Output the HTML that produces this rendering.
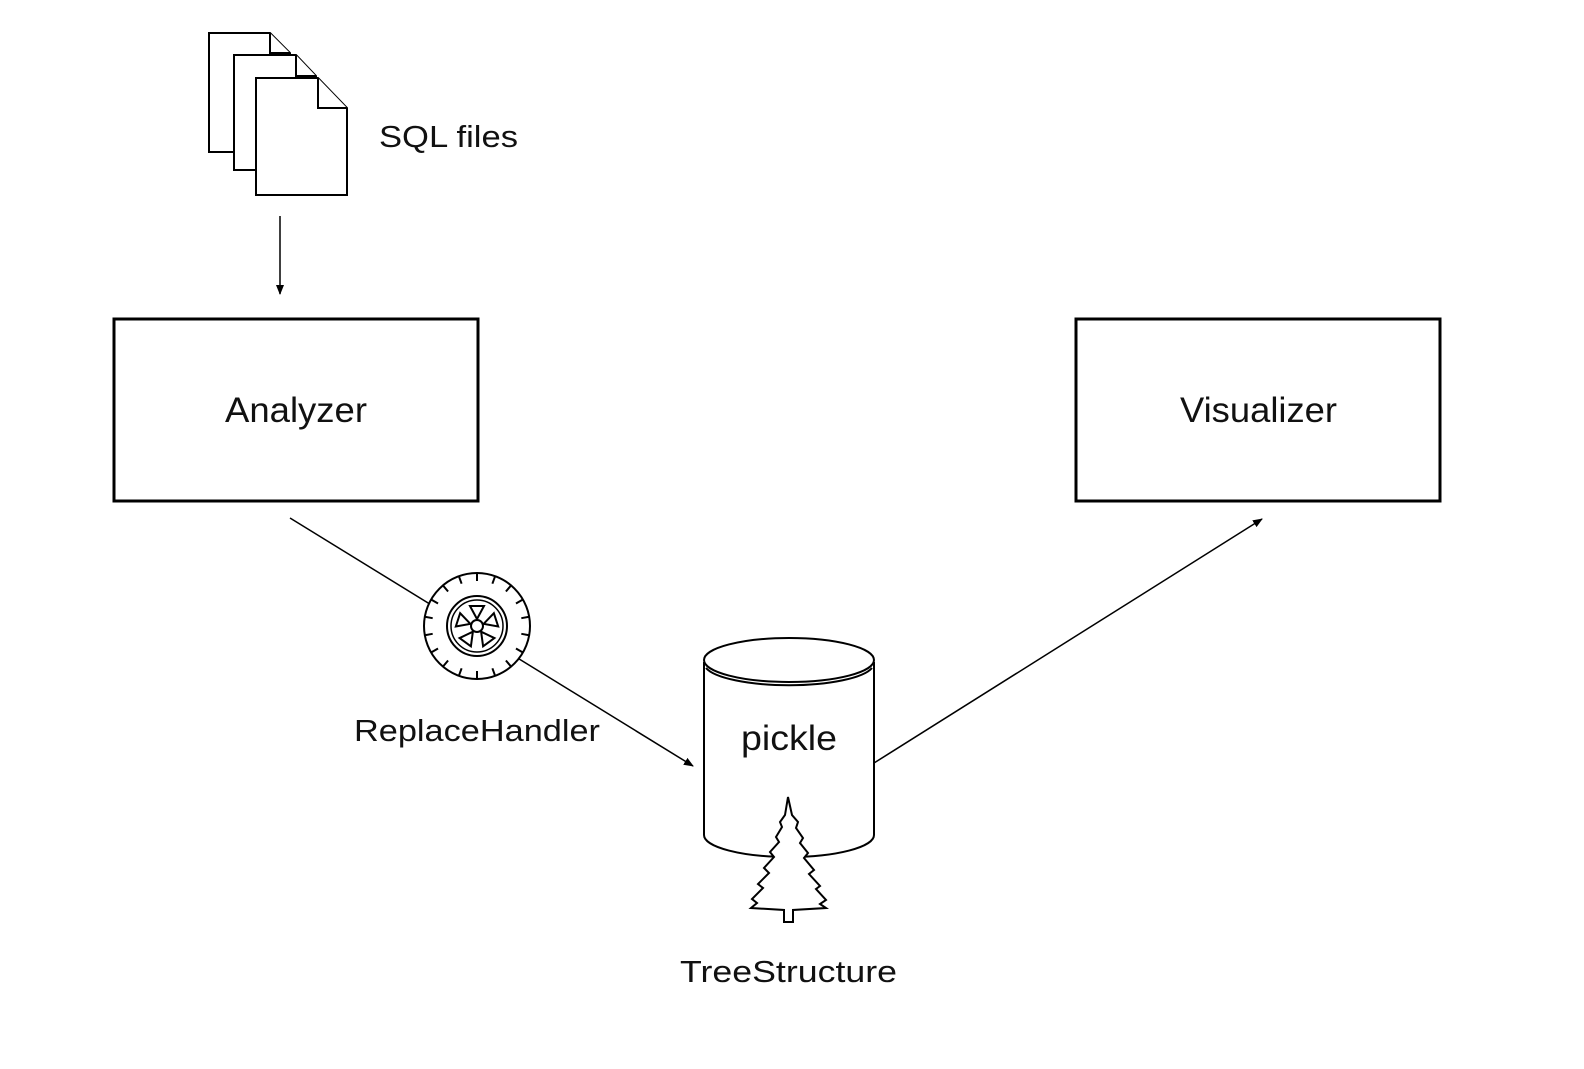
<!DOCTYPE html>
<html><head><meta charset="utf-8"><style>
html,body{margin:0;padding:0;background:#fff;}
svg text{font-family:"Liberation Sans",sans-serif;fill:#111;}
</style></head><body>
<svg width="1584" height="1064" viewBox="0 0 1584 1064" xmlns="http://www.w3.org/2000/svg">
<defs><marker id="ar" markerWidth="10" markerHeight="10" refX="9" refY="5" orient="auto" markerUnits="userSpaceOnUse"><path d="M0,1 L10,5 L0,9 z" fill="#000"/></marker></defs>
<g fill="#fff" stroke="#000" stroke-width="2">
<path d="M209,33 H270 L290,53 V152 H209 Z"/>
<path d="M270,33 V53 H290"/>
<path d="M234,55 H296 L316,76 V170 H234 Z"/>
<path d="M296,55 V76 H316"/>
<path d="M256,78 H318 L347,108 V195 H256 Z"/>
<path d="M318,78 V108 H347"/>
</g>
<text x="379" y="147" font-size="31" textLength="139" lengthAdjust="spacingAndGlyphs">SQL files</text>
<line x1="280" y1="216" x2="280" y2="294" stroke="#000" stroke-width="1.5" marker-end="url(#ar)"/>
<rect x="114" y="319" width="364" height="182" fill="none" stroke="#000" stroke-width="3"/>
<text x="225" y="422" font-size="35" textLength="142" lengthAdjust="spacingAndGlyphs">Analyzer</text>
<rect x="1076" y="319" width="364" height="182" fill="none" stroke="#000" stroke-width="3"/>
<text x="1180" y="422" font-size="35" textLength="157" lengthAdjust="spacingAndGlyphs">Visualizer</text>
<line x1="290" y1="518" x2="693" y2="766" stroke="#000" stroke-width="1.5" marker-end="url(#ar)"/>
<line x1="874" y1="763" x2="1262" y2="519" stroke="#000" stroke-width="1.5" marker-end="url(#ar)"/>
<g stroke="#000" stroke-width="2" fill="#fff">
<circle cx="477" cy="626" r="53"/>
<circle cx="477" cy="626" r="30" fill="none"/>
<circle cx="477" cy="626" r="26" fill="none" stroke-width="1.5"/>
<circle cx="477" cy="626" r="6" fill="none"/>
<g id="sp"><path d="M470,606 L477,619 L484,606 Z" fill="none" stroke-width="2"/></g>
<use href="#sp" transform="rotate(72 477 626)"/>
<use href="#sp" transform="rotate(144 477 626)"/>
<use href="#sp" transform="rotate(216 477 626)"/>
<use href="#sp" transform="rotate(288 477 626)"/>
<g stroke-width="2">
<line x1="477" y1="573" x2="477" y2="581"/>
<line x1="477" y1="573" x2="477" y2="581" transform="rotate(20 477 626)"/>
<line x1="477" y1="573" x2="477" y2="581" transform="rotate(40 477 626)"/>
<line x1="477" y1="573" x2="477" y2="581" transform="rotate(60 477 626)"/>
<line x1="477" y1="573" x2="477" y2="581" transform="rotate(80 477 626)"/>
<line x1="477" y1="573" x2="477" y2="581" transform="rotate(100 477 626)"/>
<line x1="477" y1="573" x2="477" y2="581" transform="rotate(120 477 626)"/>
<line x1="477" y1="573" x2="477" y2="581" transform="rotate(140 477 626)"/>
<line x1="477" y1="573" x2="477" y2="581" transform="rotate(160 477 626)"/>
<line x1="477" y1="573" x2="477" y2="581" transform="rotate(180 477 626)"/>
<line x1="477" y1="573" x2="477" y2="581" transform="rotate(200 477 626)"/>
<line x1="477" y1="573" x2="477" y2="581" transform="rotate(220 477 626)"/>
<line x1="477" y1="573" x2="477" y2="581" transform="rotate(240 477 626)"/>
<line x1="477" y1="573" x2="477" y2="581" transform="rotate(260 477 626)"/>
<line x1="477" y1="573" x2="477" y2="581" transform="rotate(280 477 626)"/>
<line x1="477" y1="573" x2="477" y2="581" transform="rotate(300 477 626)"/>
<line x1="477" y1="573" x2="477" y2="581" transform="rotate(320 477 626)"/>
<line x1="477" y1="573" x2="477" y2="581" transform="rotate(340 477 626)"/>
</g>
</g>
<text x="354" y="741" font-size="31" textLength="246" lengthAdjust="spacingAndGlyphs">ReplaceHandler</text>
<g stroke="#000" stroke-width="2" fill="#fff">
<path d="M704,662 V835 A85,22 0 0 0 874,835 V662"/>
<ellipse cx="789" cy="660" rx="85" ry="22"/>
<path d="M706,668 A85,22 0 0 0 872,668" fill="none"/>
</g>
<text x="741" y="750" font-size="35" textLength="96" lengthAdjust="spacingAndGlyphs">pickle</text>
<path d="M788,797 L792,815 L798,822 L796,828 L803,838 L800,843 L808,853 L804,858 L814,870 L809,874 L820,886 L816,889 L826,900 L820,904 L826,908 L793,910 V922 H784 V910 L751,908 L757,903 L752,899 L763,888 L758,884 L769,873 L764,868 L774,857 L770,852 L779,842 L776,837 L782,827 L780,822 L785,815 Z" fill="#fff" stroke="#000" stroke-width="2"/>
<text x="680" y="982" font-size="31" textLength="217" lengthAdjust="spacingAndGlyphs">TreeStructure</text>
</svg>
</body></html>
